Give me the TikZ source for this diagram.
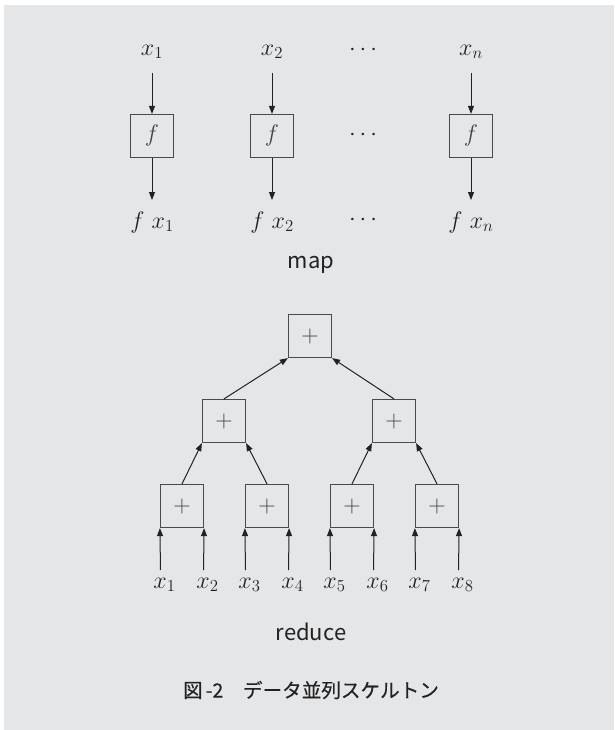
\RequirePackage{fix-cm}
\documentclass[tikz,border=0pt]{standalone}
\usepackage{fontspec}
\newfontfamily\jpfont{Noto Sans CJK JP}
\newfontfamily\jpmed[FakeBold=0.25]{Noto Sans CJK JP}
\usetikzlibrary{arrows.meta}
\definecolor{panel}{HTML}{E5E6E8}
\definecolor{ink}{HTML}{222222}
\definecolor{boxline}{HTML}{4A4A4A}

\begin{document}
\begin{tikzpicture}[x=1pt,y=-1pt,
  opbox/.style={draw=boxline, line width=1.2pt, minimum size=43pt, inner sep=0pt,
                text=ink!85, font=\fontsize{24}{28}\selectfont},
  lbl/.style={inner sep=0pt, text=ink, font=\fontsize{24}{28}\selectfont},
  arr/.style={draw=ink, line width=1pt, -{Triangle[length=8pt,width=6pt]}},
  word/.style={inner sep=0pt, text=ink, font=\jpfont\fontsize{22}{26}\selectfont}]
\useasboundingbox (0,0) rectangle (614,730);
\fill[white] (0,0) rectangle (614,730);
\fill[panel] (4,5) rectangle (614,730);

% ---------- map ----------
\node[lbl] (in1) at (152,52) {$x_1$};
\node[lbl] (in2) at (272,52) {$x_2$};
\node[lbl] (inn) at (471,52) {$x_n$};
\node[lbl] (dtop) at (363,50) {$\cdots$};

\coordinate (s1) at (152,73);
\coordinate (s2) at (272,73);
\coordinate (sn) at (471,73);

\node[opbox] (f1) at (152,136) {$f$};
\node[opbox] (f2) at (272,136) {$f$};
\node[opbox] (fn) at (471,136) {$f$};
\node[lbl] (dmid) at (363,135) {$\cdots$};

\coordinate (e1) at (152,200);
\coordinate (e2) at (272,200);
\coordinate (en) at (471,200);

\node[lbl] (out1) at (152,222) {$f\ x_1$};
\node[lbl] (out2) at (272,222) {$f\ x_2$};
\node[lbl] (outn) at (471,222) {$f\ x_n$};
\node[lbl] (dbot) at (363,220) {$\cdots$};

\draw[arr] (s1) -- (f1.north);
\draw[arr] (s2) -- (f2.north);
\draw[arr] (sn) -- (fn.north);
\draw[arr] (f1.south) -- (e1);
\draw[arr] (f2.south) -- (e2);
\draw[arr] (fn.south) -- (en);

\node[word] (map) at (311,265) {map};

% ---------- reduce ----------
\node[opbox] (top) at (310,336) {$+$};
\node[opbox] (l) at (224,421) {$+$};
\node[opbox] (r) at (394,421) {$+$};
\node[opbox] (b1) at (182,506) {$+$};
\node[opbox] (b2) at (267,506) {$+$};
\node[opbox] (b3) at (352,506) {$+$};
\node[opbox] (b4) at (437,506) {$+$};

\draw[arr] (l.north) -- (top.south west);
\draw[arr] (r.north) -- (top.south east);
\draw[arr] (b1.north) -- (l.south west);
\draw[arr] (b2.north) -- (l.south east);
\draw[arr] (b3.north) -- (r.south west);
\draw[arr] (b4.north) -- (r.south east);

% leaf inputs sit under the lower corners of the bottom boxes
\foreach \i/\xx in {1/160.5,2/203.5,3/245.5,4/288.5,5/330.5,6/373.5,7/415.5,8/458.5}{
  \coordinate (i\i) at (\xx,570);
  \node[lbl] (x\i) at (\xx+4,585) {$x_{\i}$};
}
\draw[arr] (i1) -- (b1.south west);
\draw[arr] (i2) -- (b1.south east);
\draw[arr] (i3) -- (b2.south west);
\draw[arr] (i4) -- (b2.south east);
\draw[arr] (i5) -- (b3.south west);
\draw[arr] (i6) -- (b3.south east);
\draw[arr] (i7) -- (b4.south west);
\draw[arr] (i8) -- (b4.south east);

\node[word] (reduce) at (311,632) {reduce};

% ---------- caption ----------
\node[word, font=\jpmed\fontsize{19.6}{24}\selectfont] (cap) at (311,690) {図\hspace{3pt}-2　データ並列スケルトン};
\end{tikzpicture}
\end{document}
